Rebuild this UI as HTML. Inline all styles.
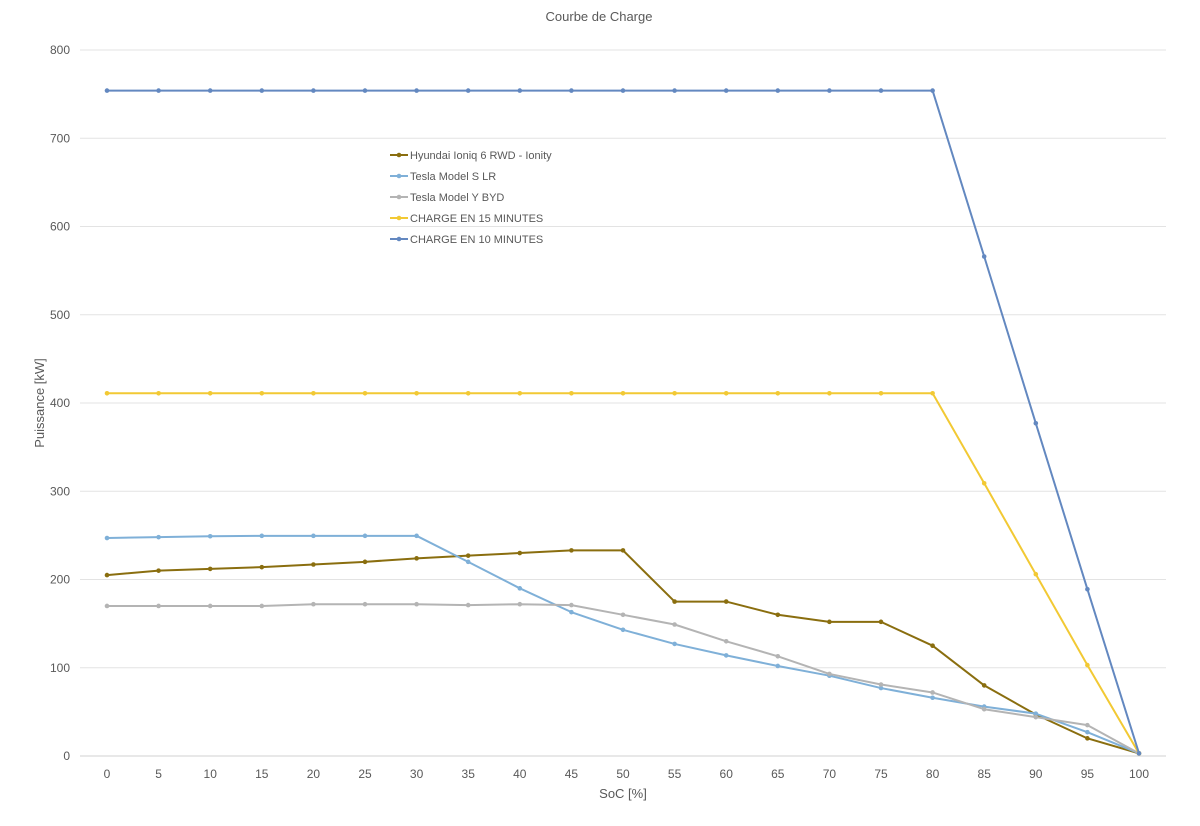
<!DOCTYPE html>
<html><head><meta charset="utf-8"><style>
body{margin:0;background:#fff;font-family:"Liberation Sans",sans-serif}
svg text{font-family:"Liberation Sans",sans-serif;fill:#595959}
</style></head><body>
<svg id="chart" width="1200" height="821" xmlns="http://www.w3.org/2000/svg">
<rect width="1200" height="821" fill="#fff"/>
<text x="599" y="21" font-size="13" text-anchor="middle">Courbe de Charge</text>
<g id="grid"></g><g id="xt"></g><g id="yt"></g><g id="series"></g><g id="legend"></g>
<text transform="translate(44,403) rotate(-90)" font-size="13" text-anchor="middle">Puissance [kW]</text>
<text x="623" y="798" font-size="13" text-anchor="middle">SoC [%]</text>
</svg>
<script>
const categories=[0,5,10,15,20,25,30,35,40,45,50,55,60,65,70,75,80,85,90,95,100];
const yTicks=[0,100,200,300,400,500,600,700,800];
const hyundai=[205,210,212,214,217,220,224,227,230,233,233,175,175,160,152,152,125,80,47,20,3];
const teslaS=[247,248,249,249.5,249.5,249.5,249.5,220,190,163,143,127,114,102,91,77,66,56,48,27,3];
const teslaY=[170,170,170,170,172,172,172,171,172,171,160,149,130,113,93,81,72,53,44,35,3];
const charge15=[411,411,411,411,411,411,411,411,411,411,411,411,411,411,411,411,411,309,206,103,3];
const charge10=[754,754,754,754,754,754,754,754,754,754,754,754,754,754,754,754,754,566,377,189,3];
const seriesNames=["Hyundai Ioniq 6 RWD - Ionity","Tesla Model S LR","Tesla Model Y BYD","CHARGE EN 15 MINUTES","CHARGE EN 10 MINUTES"];
const seriesData=[hyundai,teslaS,teslaY,charge15,charge10];
const colors=["#8a6e0f","#7fb0d8","#b4b4b4","#f2c934","#6388c0"];
const NS="http://www.w3.org/2000/svg";
const X=v=>107+(v-0)*(1139-107)/100;
const Y=v=>756-v*(756-50)/800;
function mk(tag,attrs,parent){const e=document.createElementNS(NS,tag);for(const k in attrs)e.setAttribute(k,attrs[k]);parent.appendChild(e);return e;}
const grid=document.getElementById('grid'),yt=document.getElementById('yt'),xt=document.getElementById('xt');
yTicks.forEach(t=>{
 const l=mk('line',{x1:80,x2:1166,y1:Y(t),y2:Y(t),stroke:t===0?'#d0d0d0':'#e3e3e3','stroke-width':1},grid);
 
 
 const tx=mk('text',{x:70,y:Y(t)+4,'font-size':12,'text-anchor':'end'},yt);tx.textContent=t;
 
 
});
categories.forEach(c=>{
 const tx=mk('text',{x:X(c),y:778,'font-size':12,'text-anchor':'middle'},xt);tx.textContent=c;
 
 
});
const sg=document.getElementById('series'),lg=document.getElementById('legend');
seriesData.forEach((d,i)=>{
 const g=mk('g',{},sg);
 
 
 mk('polyline',{points:d.map((v,j)=>X(categories[j])+','+Y(v)).join(' '),fill:'none',stroke:colors[i],'stroke-width':2,'stroke-linejoin':'round'},g);
 d.forEach((v,j)=>{const p=mk('circle',{cx:X(categories[j]),cy:Y(v),r:2.3,fill:colors[i]},g);
  
  });
 const ly=155+i*21;
 const le=mk('g',{},lg);
 
 
 mk('line',{x1:390,x2:408,y1:ly,y2:ly,stroke:colors[i],'stroke-width':2},le);
 mk('circle',{cx:399,cy:ly,r:2.3,fill:colors[i]},le);
 const t=mk('text',{x:410,y:ly+4,'font-size':11},le);t.textContent=seriesNames[i];
});
</script>
</body></html>
